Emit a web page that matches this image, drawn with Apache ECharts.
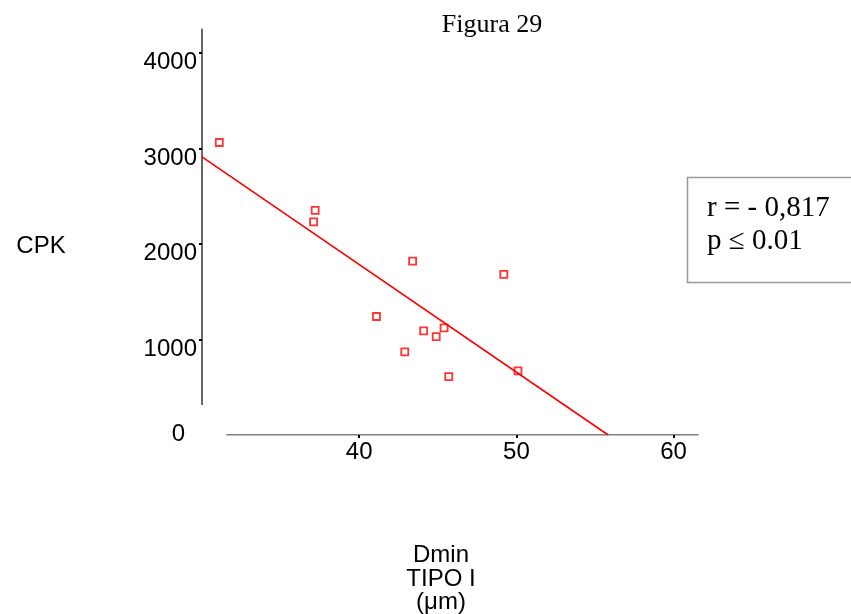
<!DOCTYPE html>
<html><head><meta charset="utf-8">
<script src="https://cdn.jsdelivr.net/npm/echarts@6/dist/echarts.min.js"></script>
<style>html,body{margin:0;padding:0;background:#fff}#c{width:851px;height:614px}</style>
</head><body><div id="c"></div>
<script>
// Data
const dminX = [31.1, 37.2, 37.1, 41.1, 42.9, 43.4, 44.1, 44.9, 45.4, 45.7, 49.2, 50.1];
const cpkY  = [3060, 2350, 2230, 1240, 870, 1820, 1090, 1030, 1120, 610, 1680, 670];
const fitX = [30, 55.84];
const fitY = [2910, 0];
const xTickValues = [40, 50, 60];
const yLabelValues = [0, 1000, 2000, 3000, 4000];
const yTickValues = [1000, 2000, 3000, 4000];
const xAxisSpan = [31.55, 61.6];
const yAxisSpan = [314, 4250];
const titleText = 'Figura 29';
const yName = 'CPK';
const xName = 'Dmin\nTIPO I\n(\u03bcm)';
const statsLines = ['r = - 0,817', 'p \u2264 0.01'];

const chart = echarts.init(document.getElementById('c'), null, {renderer: 'canvas'});
const sans = 'Liberation Sans, Arial, sans-serif';
const serif = 'Liberation Serif, Times New Roman, serif';
const axisLineStyle = {color: '#000', width: 1.2};

chart.setOption({
  animation: false,
  backgroundColor: '#fff',
  title: {text: titleText, left: 487, top: 7, textAlign: 'center',
    textStyle: {fontFamily: serif, fontSize: 26, fontWeight: 'normal', color: '#000'}},
  grid: {left: 202, top: 24, width: 503, height: 411},
  xAxis: {type: 'value', min: 30, max: 62, interval: 10,
    splitLine: {show: false}, axisLine: {show: false},
    axisTick: {show: true, length: 3, customValues: xTickValues, lineStyle: {color: '#000', width: 2}},
    axisLabel: {customValues: xTickValues, margin: 5, fontFamily: sans, fontSize: 24, color: '#000'}},
  yAxis: {type: 'value', min: 0, max: 4300, interval: 1000,
    splitLine: {show: false}, axisLine: {show: false},
    axisTick: {show: true, length: 3, customValues: yTickValues, lineStyle: {color: '#000', width: 2}},
    axisLabel: {customValues: yLabelValues, margin: 5, fontFamily: sans, fontSize: 24, color: '#000',
      formatter: v => v === 0 ? '{z|0}' : '{n|' + v + '}',
      rich: {n: {fontFamily: sans, fontSize: 24, padding: [20, 0, 0, 0]},
             z: {fontFamily: sans, fontSize: 24, padding: [0, 12, 1, 0]}}}},
  graphic: [
    {type: 'text', x: 41, y: 246, style: {text: yName, font: '24px ' + sans, fill: '#000', textAlign: 'center', textVerticalAlign: 'middle'}},
    {type: 'text', x: 441, y: 544, style: {text: xName, font: '24px ' + sans, fill: '#000', textAlign: 'center', textVerticalAlign: 'top', lineHeight: 23.5}},
    {type: 'rect', shape: {x: 687.5, y: 177.5, width: 175, height: 105}, style: {fill: '#fff', stroke: '#999', lineWidth: 1.5}},
    {type: 'text', x: 707, y: 192, style: {text: statsLines.join('\n'), font: '29px ' + serif, fill: '#000', lineHeight: 33, textVerticalAlign: 'top'}}
  ],
  series: [
    {type: 'line', data: [[30, yAxisSpan[0]], [30, yAxisSpan[1]]], symbol: 'none', silent: true, lineStyle: axisLineStyle},
    {type: 'line', data: [[xAxisSpan[0], 0], [xAxisSpan[1], 0]], symbol: 'none', silent: true, lineStyle: axisLineStyle},
    {type: 'line', data: fitX.map((x, i) => [x, fitY[i]]), symbol: 'none', silent: true, lineStyle: {color: '#ff0000', width: 1.6}},
    {type: 'scatter', data: dminX.map((x, i) => [x, cpkY[i]]), symbol: 'rect', symbolSize: 7,
      itemStyle: {color: '#fff', borderColor: '#ff0000', borderWidth: 1.8}}
  ]
});
</script></body></html>
